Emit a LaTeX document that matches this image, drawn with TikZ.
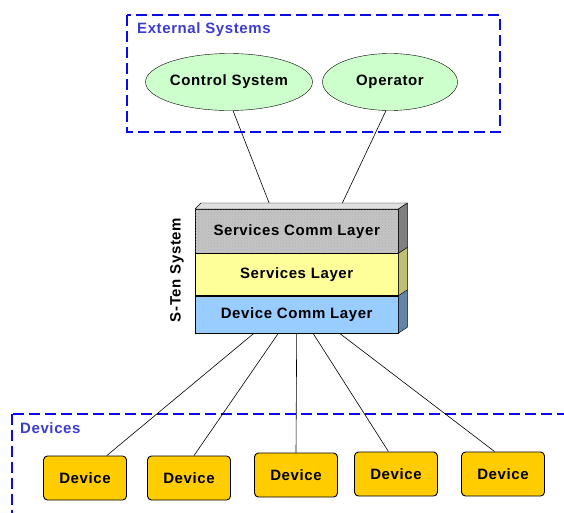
\documentclass[tikz,border=0pt]{standalone}
\usepackage{fontspec}
\setmainfont{Liberation Sans}[LetterSpace=4]
\usetikzlibrary{positioning, calc, shapes.geometric, patterns}
\definecolor{grpblue}{RGB}{10, 10, 235}
\definecolor{grptext}{RGB}{60, 60, 205}
\definecolor{extgreen}{RGB}{204, 255, 204}
\definecolor{commgray}{RGB}{196, 196, 196}
\definecolor{svcyellow}{RGB}{255, 255, 153}
\definecolor{devblue}{RGB}{153, 204, 255}
\definecolor{devgold}{RGB}{255, 204, 0}

\begin{document}
\begin{tikzpicture}[
        x = 1pt, y = -1pt,
        font = \fontsize{15}{17}\selectfont\bfseries,
        group/.style = {draw=grpblue, line width=2.5pt, dash pattern=on 11pt off 5pt},
        grouplabel/.style = {text=grptext, anchor=west, inner sep=0pt},
        actor/.style = {ellipse, draw, fill=extgreen, minimum width=135pt, minimum height=57pt, inner sep=0pt},
        layer/.style = {draw, minimum width=203pt, inner sep=0pt},
        face/.style = {draw, line join=round},
        device/.style = {draw, fill=devgold, line width=0.9pt, rounded corners=4pt, minimum width=83pt, minimum height=44pt},
        link/.style = {line width=0.6pt},
    ]
        \useasboundingbox (0,0) rectangle (564,512);
        \clip (0,0) rectangle (564,512);

        % external systems
        \draw[group] (127,15) rectangle (500,132);
        \node[grouplabel] (extlbl) at (137,30) {External Systems};
        \node[actor] (cs) at (229,82) {Control System};
        \node[actor] (op) at (390,82) {Operator};

        % S-Ten stack
        \node[layer, anchor=north west, minimum height=44pt, fill=commgray,
              postaction={pattern=crosshatch dots, pattern color=black!30}] (scl) at (195,209) {};
        \node (scltxt) at (scl.center) {Services Comm Layer};
        \node[layer, below=0pt of scl, minimum height=42pt, fill=svcyellow] (sl) {Services Layer};
        \node[layer, below=0pt of sl, minimum height=37pt, fill=devblue] (dcl) {Device Comm Layer};
        \draw[face, fill=black!12] (scl.north west) -- ($(scl.north west)+(6,-6)$)
            -- ($(scl.north east)+(9,-6)$) -- (scl.north east) -- cycle;
        \draw[face, fill=black!50] (scl.north east) -- ($(scl.north east)+(9,-6)$)
            -- ($(scl.south east)+(9,-6)$) -- (scl.south east) -- cycle;
        \draw[face, fill=svcyellow!75!black] (sl.north east) -- ($(sl.north east)+(9,-6)$)
            -- ($(sl.south east)+(9,-6)$) -- (sl.south east) -- cycle;
        \draw[face, fill=devblue!65!black] (dcl.north east) -- ($(dcl.north east)+(9,-6)$)
            -- ($(dcl.south east)+(9,-6)$) -- (dcl.south east) -- cycle;
        \node[rotate=90] (sten) at (177,270) {S-Ten System};

        % devices
        \draw[group] (12,414) rectangle (600,560);
        \node[grouplabel] (devlbl) at (20,428) {Devices};
        \node[device] (d1) at (85,478) {Device};
        \node[device] (d2) at (189,478) {Device};
        \node[device] (d3) at (296,475) {Device};
        \node[device] (d4) at (396,474) {Device};
        \node[device] (d5) at (503,474) {Device};

        % links
        \draw[link] (cs.-82) -- ($(scl.north west)!0.33!(scl.north east)+(7,-6)$);
        \draw[link] (op.-98) -- ($(scl.north west)!0.69!(scl.north east)+(7,-6)$);
        \foreach \dev/\fa/\fb in {d1/0.29/0.76, d2/0.41/0.56, d3/0.5/0.5, d4/0.58/0.41, d5/0.71/0.4}
            \draw[link] ($(dcl.south west)!\fa!(dcl.south east)$) -- ($(\dev.north west)!\fb!(\dev.north east)$);
    \end{tikzpicture}
\end{document}
